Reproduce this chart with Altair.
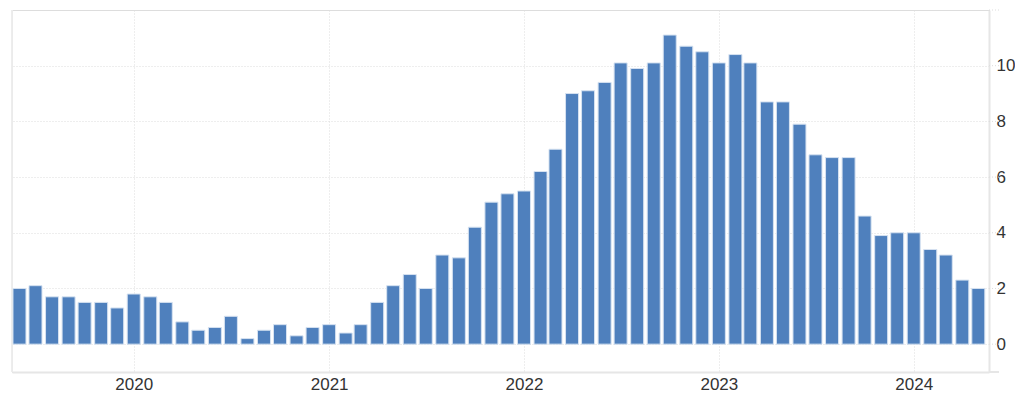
import altair as alt
import pandas as pd

months = pd.date_range("2019-06-01", "2024-05-01", freq="MS").strftime("%Y-%m-%d").tolist()
values = [
    2.0, 2.1, 1.7, 1.7, 1.5, 1.5, 1.3,                      # 2019 Jun-Dec
    1.8, 1.7, 1.5, 0.8, 0.5, 0.6, 1.0, 0.2, 0.5, 0.7, 0.3, 0.6,  # 2020
    0.7, 0.4, 0.7, 1.5, 2.1, 2.5, 2.0, 3.2, 3.1, 4.2, 5.1, 5.4,  # 2021
    5.5, 6.2, 7.0, 9.0, 9.1, 9.4, 10.1, 9.9, 10.1, 11.1, 10.7, 10.5,  # 2022
    10.1, 10.4, 10.1, 8.7, 8.7, 7.9, 6.8, 6.7, 6.7, 4.6, 3.9, 4.0,  # 2023
    4.0, 3.4, 3.2, 2.3, 2.0,                                # 2024 Jan-May
]
y_ticks = [0, 2, 4, 6, 8, 10, 12]

df = pd.DataFrame({"date": months, "value": values})
ticks_df = pd.DataFrame({"value": y_ticks})

W, H = 977, 362
FONT = "Arial, Liberation Sans, sans-serif"
GRID = "#dcdcdc"

y_scale = alt.Scale(domain=[-1, 12], nice=False, zero=False, padding=0)

bars = alt.Chart(df).mark_bar(
    width=13, color="#4f80bd", stroke="#d6e2f1", strokeWidth=1
).encode(
    x=alt.X(
        "date:T",
        scale=alt.Scale(
            type="utc", padding=0,
            domain=[alt.DateTime(year=2019, month=5, date=18, utc=True),
                    alt.DateTime(year=2024, month=5, date=21, utc=True)],
        ),
        axis=alt.Axis(
            title=None, format="%Y", formatType="utc",
            tickCount={"interval": "year", "step": 1},
            grid=True, gridColor=GRID, gridDash=[1, 2], gridWidth=1,
            ticks=False, labelPadding=4,
            labelFont=FONT, labelFontSize=17, labelColor="#333333",
            domain=True, domainColor="#e6e6e6", domainWidth=2,
        ),
    ),
    y=alt.Y(
        "value:Q",
        scale=y_scale,
        axis=alt.Axis(
            title=None, orient="right", values=y_ticks,
            labelExpr="datum.value == 12 ? '' : datum.label",
            grid=True, gridColor=GRID, gridDash=[1, 2], gridWidth=1,
            ticks=False, labelPadding=7, labelFont=FONT, labelFontSize=17,
            labelColor="#333333",
            domain=True, domainColor="#e6e6e6", domainWidth=2,
        ),
    ),
    y2=alt.datum(0),
)

# short dotted extensions of the horizontal gridlines past the right axis line
grid_ext = alt.Chart(ticks_df).mark_rule(
    color=GRID, strokeDash=[1, 2], strokeWidth=1
).encode(
    y=alt.Y("value:Q", scale=y_scale),
    x=alt.value(W),
    x2=alt.value(W + 12),
)

left_edge = alt.Chart(df).mark_rule(color="#ececec", strokeWidth=1).encode(
    x=alt.value(0), y=alt.value(0), y2=alt.value(H)
)

bottom_ext = alt.Chart(df).mark_rule(color="#e6e6e6", strokeWidth=2).encode(
    x=alt.value(W), x2=alt.value(W + 10), y=alt.value(H)
)

chart = alt.layer(left_edge, grid_ext, bottom_ext, bars).properties(
    width=W, height=H,
    padding={"left": 3, "top": 1, "right": 0, "bottom": 0},
).configure_view(stroke=None).configure(background="white")

chart.save("out.html", embed_options={"renderer": "svg", "actions": False})
